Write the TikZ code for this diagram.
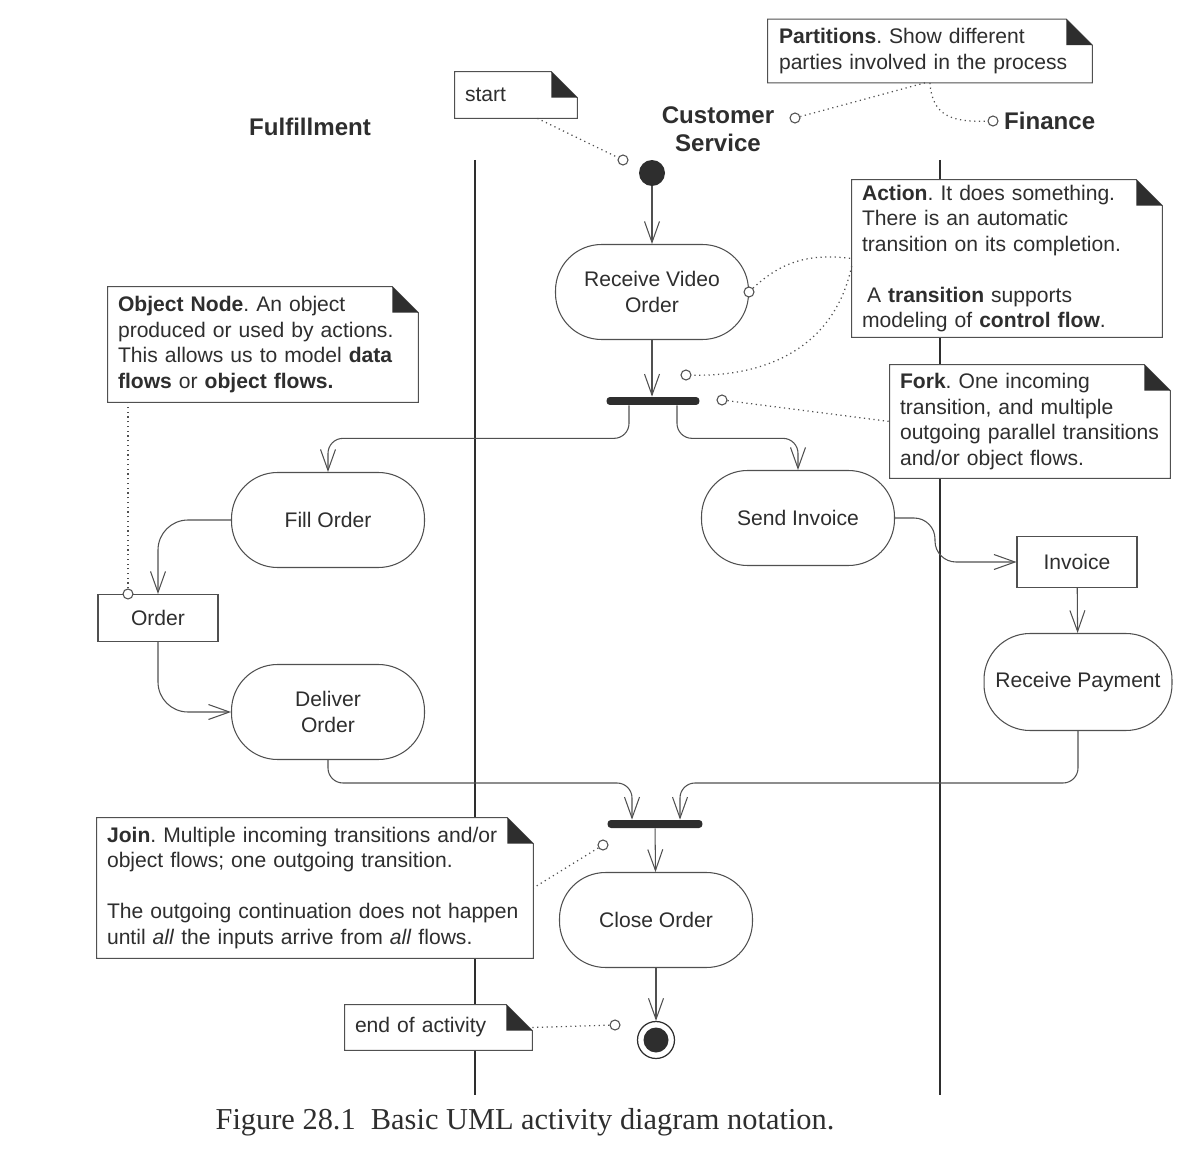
\documentclass[tikz,border=0pt]{standalone}
\usepackage{fontspec}
\setmainfont{Liberation Sans}
\newfontfamily\captionserif{Liberation Serif}
\usetikzlibrary{arrows.meta}
\frenchspacing

\definecolor{ink}{HTML}{2E2E2E}
\definecolor{wire}{HTML}{505050}

% outline of a note with its folded corner
\newcommand{\notefold}[1]{%
  \draw[wire, line width=0.6pt] (#1.south west) -- (#1.north west) -- ([xshift=-0.52cm]#1.north east)
    -- ([yshift=-0.52cm]#1.north east) -- (#1.south east) -- cycle;
  \fill[ink] ([xshift=-0.52cm]#1.north east) -- ([xshift=-0.52cm,yshift=-0.52cm]#1.north east)
    -- ([yshift=-0.52cm]#1.north east) -- cycle;
}

\tikzset{
  lane/.style={line width=0.9pt, ink},
  flow/.style={wire, line width=0.6pt, -{Straight Barb[length=0.42cm, width=0.3cm]}, rounded corners=0.3cm},
  tether/.style={wire, dotted, line width=0.7pt},
  knob/.style={circle, draw=wire, line width=0.6pt, fill=white, minimum size=0.2cm, inner sep=0pt},
  activity/.style={draw=wire, line width=0.6pt, fill=white, rounded corners=0.92cm,
    minimum width=3.86cm, minimum height=1.9cm, align=center},
  objectbox/.style={draw=wire, line width=0.6pt, fill=white, minimum width=2.4cm, minimum height=0.94cm},
  syncbar/.style={fill=ink, rounded corners=0.07cm, minimum width=1.86cm, minimum height=0.16cm, inner sep=0pt},
  note/.style={fill=white, align=left, inner xsep=0.2cm, inner ysep=0pt},
  lanename/.style={font=\bfseries\fontsize{13.7}{16}\selectfont, align=center},
}

\begin{document}
\begin{tikzpicture}[x=0.02cm, y=-0.02cm, font=\fontsize{12}{14.5}\selectfont, ink]
  \useasboundingbox (0,0) rectangle (1177,1152);

  % swimlanes
  \draw[lane] (475,160) -- (475,1095);
  \draw[lane] (940,160) -- (940,1095);

  \node[lanename] (fulfil) at (310,127) {Fulfillment};
  \node[lanename] (custserv) at (718,129) {Customer\\Service};
  \node[lanename, anchor=west] (finance) at (998,121) {Finance};
  \node[knob] (kcust) at (795,118) {};
  \node[knob] (kfin) at (993,121) {};

  \node[note, minimum width=6.48cm, minimum height=1.26cm, text width=6.04cm] (partnote) at (930,51)
    {\textbf{Partitions}. Show different\\parties involved in the process};
  \notefold{partnote}
  \draw[tether] ([xshift=-0.1cm]partnote.south) -- (kcust);
  \draw[tether] (partnote.south) .. controls (932,118) and (955,122) .. (kfin);

  % start
  \node[note, minimum width=2.44cm, minimum height=0.92cm, text width=2.04cm] (startnote) at (516,95) {start};
  \notefold{startnote}
  \node[circle, fill=ink, minimum size=0.52cm, inner sep=0pt] (start) at (652,173) {};
  \node[knob] (kstart) at (623,160) {};
  \draw[tether] ([xshift=-0.8cm]startnote.south east) -- (kstart);

  % action and fork
  \node[activity] (receive) at (652,292) {Receive Video\\Order};
  \node[syncbar] (fork) at (653,401) {};
  \draw[flow] (start) -- (receive);
  \draw[flow] (receive.south) -- (receive.south |- fork.north);
  \node[knob] (kreceive) at (receive.east) {};
  \node[knob] (ktrans) at (686,375) {};
  \node[knob] (kfork) at (722,400) {};

  \node[note, minimum width=6.2cm, minimum height=3.14cm, text width=5.8cm] (actnote) at (1007,258.5)
    {\textbf{Action}. It does something.\\There is an automatic\\transition on its completion.\\[14.5pt]
     \hspace*{0.1cm}A \textbf{transition} supports\\modeling of \textbf{control flow}.};
  \notefold{actnote}
  \draw[tether] (kreceive) .. controls (785,258) and (815,254) .. (actnote.west);
  \draw[tether] ([yshift=-0.15cm]actnote.west) .. controls (835,345) and (770,377) .. (ktrans);

  \node[note, minimum width=5.6cm, minimum height=2.26cm, text width=5.2cm] (forknote) at (1030,421.5)
    {\textbf{Fork}. One incoming\\transition, and multiple\\outgoing parallel transitions\\and/or object flows.};
  \notefold{forknote}
  \draw[tether] (kfork) -- (forknote.west);

  % fulfillment
  \node[activity] (fill) at (328,520) {Fill Order};
  \node[objectbox] (order) at (158,618) {Order};
  \node[activity] (deliver) at (328,712) {Deliver\\Order};
  \node[knob] (korder) at ([xshift=-0.6cm]order.north) {};

  \node[note, minimum width=6.2cm, minimum height=2.3cm, text width=5.8cm] (objnote) at (263,344.5)
    {\textbf{Object Node}. An object\\produced or used by actions.\\This allows us to model \textbf{data}\\
     \textbf{flows} or \textbf{object flows.}};
  \notefold{objnote}
  \draw[tether] (korder) -- (korder |- objnote.south);

  % customer service
  \node[activity] (send) at (798,518) {Send Invoice};
  \node[syncbar, minimum width=1.9cm] (join) at (655,824) {};
  \node[activity] (close) at (656,920) {Close Order};
  \node[circle, draw=ink, line width=0.7pt, minimum size=0.74cm, inner sep=0pt] (finish) at (656,1040) {};
  \node[circle, fill=ink, minimum size=0.5cm, inner sep=0pt] (finishdot) at (finish) {};
  \node[knob] (kjoin) at (603,845) {};
  \node[knob] (kend) at (615,1025) {};

  \node[note, minimum width=8.72cm, minimum height=2.8cm, text width=8.32cm] (joinnote) at (315,888)
    {\textbf{Join}. Multiple incoming transitions and/or\\object flows; one outgoing transition.\\[14.5pt]
     The outgoing continuation does not happen\\until \textit{all} the inputs arrive from \textit{all} flows.};
  \notefold{joinnote}
  \draw[tether] (kjoin) -- (joinnote.east);

  \node[note, minimum width=3.74cm, minimum height=0.9cm, text width=3.34cm] (endnote) at (438.5,1027.5) {end of activity};
  \notefold{endnote}
  \draw[tether] (endnote.east) -- (kend);

  % finance
  \node[objectbox, minimum height=1.02cm] (invoice) at (1077,562) {Invoice};
  \node[activity, minimum width=3.76cm, minimum height=1.94cm] (pay) at (1078,682) {Receive Payment};

  % flows
  \coordinate (joinin) at (0,783);
  \draw[flow] ([xshift=-0.48cm]fork.south) -- ++(0,33) -| (fill.north);
  \draw[flow] ([xshift=0.48cm]fork.south) -- ++(0,33) -| (send.north);
  \draw[flow, rounded corners=0.6cm] (fill.west) -| (order.north);
  \draw[flow, rounded corners=0.6cm] (order.south) |- (deliver.west);
  \draw[flow, rounded corners=0.42cm] (send.east) -- ++(40,0) |- (invoice.west);
  \draw[flow] (invoice) -- (pay);
  \draw[flow] (deliver.south) |- ([xshift=-0.46cm]join.north |- joinin) -- ([xshift=-0.46cm]join.north);
  \draw[flow] (pay.south) |- ([xshift=0.5cm]join.north |- joinin) -- ([xshift=0.5cm]join.north);
  \draw[flow] (join) -- (close);
  \draw[flow] (close) -- (finish);

  \node[font=\captionserif\fontsize{17.3}{20}\selectfont] (caption) at (525,1122)
    {Figure 28.1\ \ Basic UML activity diagram notation.};
\end{tikzpicture}
\end{document}
